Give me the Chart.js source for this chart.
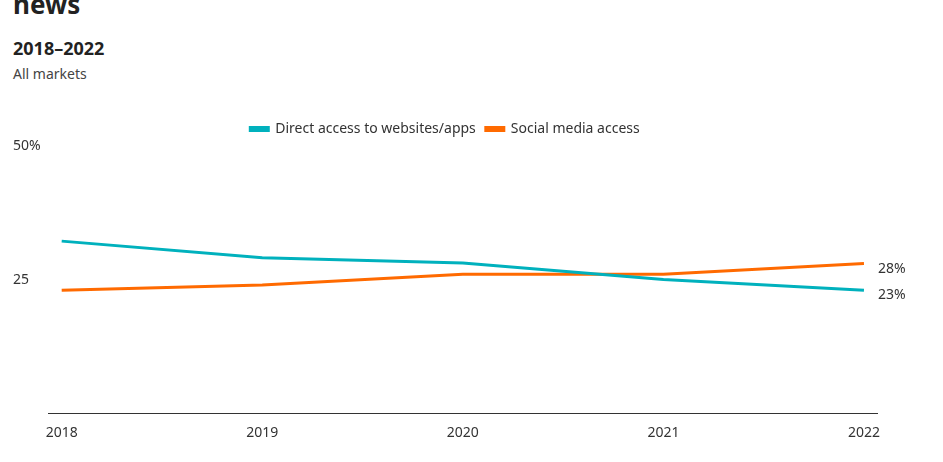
<!DOCTYPE html>
<html><head><meta charset="utf-8">
<script src="https://cdn.jsdelivr.net/npm/chart.js@4"></script>
<style>
body{margin:0;width:943px;height:462px;overflow:hidden;background:#fff;font-family:"Noto Sans",sans-serif;color:#222}
#t{position:absolute;left:13px;top:-14px;font-size:26px;font-weight:bold}
#s{position:absolute;left:13px;top:36px;font-size:18px;font-weight:bold}
#m{position:absolute;left:13px;top:64px;font-size:14px;color:#444}
canvas{position:absolute;left:0;top:0}
</style></head><body>
<div id="t">news</div><div id="s">2018–2022</div><div id="m">All markets</div>
<canvas id="c" width="943" height="462"></canvas>
<script>
const years = [2018, 2019, 2020, 2021, 2022];
const directAccess = [32.2, 29.1, 28.1, 25, 23];
const socialAccess = [23, 24, 26, 26, 28];
const yTicks = [0, 25, 50];

const endLabels = {
  id: "endLabels",
  afterDatasetsDraw(chart) {
    const ctx = chart.ctx;
    ctx.save();
    ctx.font = "14px 'Noto Sans'";
    ctx.fillStyle = "#333";
    ctx.textBaseline = "middle";
    chart.data.datasets.forEach((ds, i) => {
      const p = chart.getDatasetMeta(i).data[ds.data.length - 1];
      ctx.fillText(Math.round(ds.data[ds.data.length - 1].y) + "%", p.x + 14, p.y + 5);
    });
    ctx.restore();
  }
};

new Chart(document.getElementById("c").getContext("2d"), {
  type: "line",
  data: {
    datasets: [
      { label: "Direct access to websites/apps", data: years.map((y, i) => ({ x: y, y: directAccess[i] })), borderColor: "#00b1bd", backgroundColor: "#00b1bd" },
      { label: "Social media access", data: years.map((y, i) => ({ x: y, y: socialAccess[i] })), borderColor: "#ff6a00", backgroundColor: "#ff6a00" },
    ],
  },
  options: {
    animation: false,
    responsive: false,
    layout: { padding: { top: 112, right: 66, left: 13, bottom: 18 } },
    elements: { line: { borderWidth: 3, tension: 0 }, point: { radius: 0 } },
    plugins: {
      tooltip: { enabled: false },
      legend: {
        labels: { boxWidth: 18, boxHeight: 3, color: "#333", font: { size: 14, family: "Noto Sans" } },
      },
    },
    scales: {
      x: {
        type: "linear", min: 2017.935, max: 2022.065,
        afterBuildTicks: (s) => { s.ticks = years.map((v) => ({ value: v })); },
        grid: { display: false },
        border: { color: "#333" },
        ticks: { color: "#333", font: { size: 14, family: "Noto Sans" }, callback: (v) => String(v), maxRotation: 0 },
      },
      y: {
        min: 0, max: 50,
        afterBuildTicks: (s) => { s.ticks = yTicks.map((v) => ({ value: v })); },
        grid: { display: false },
        border: { display: false },
        ticks: { color: "#333", crossAlign: "far", padding: 0, font: { size: 14, family: "Noto Sans" },
          callback: (v) => (v == 50 ? "50%" : v == 25 ? "25" : "") },
      },
    },
  },
  plugins: [endLabels],
});
</script>
</body></html>
